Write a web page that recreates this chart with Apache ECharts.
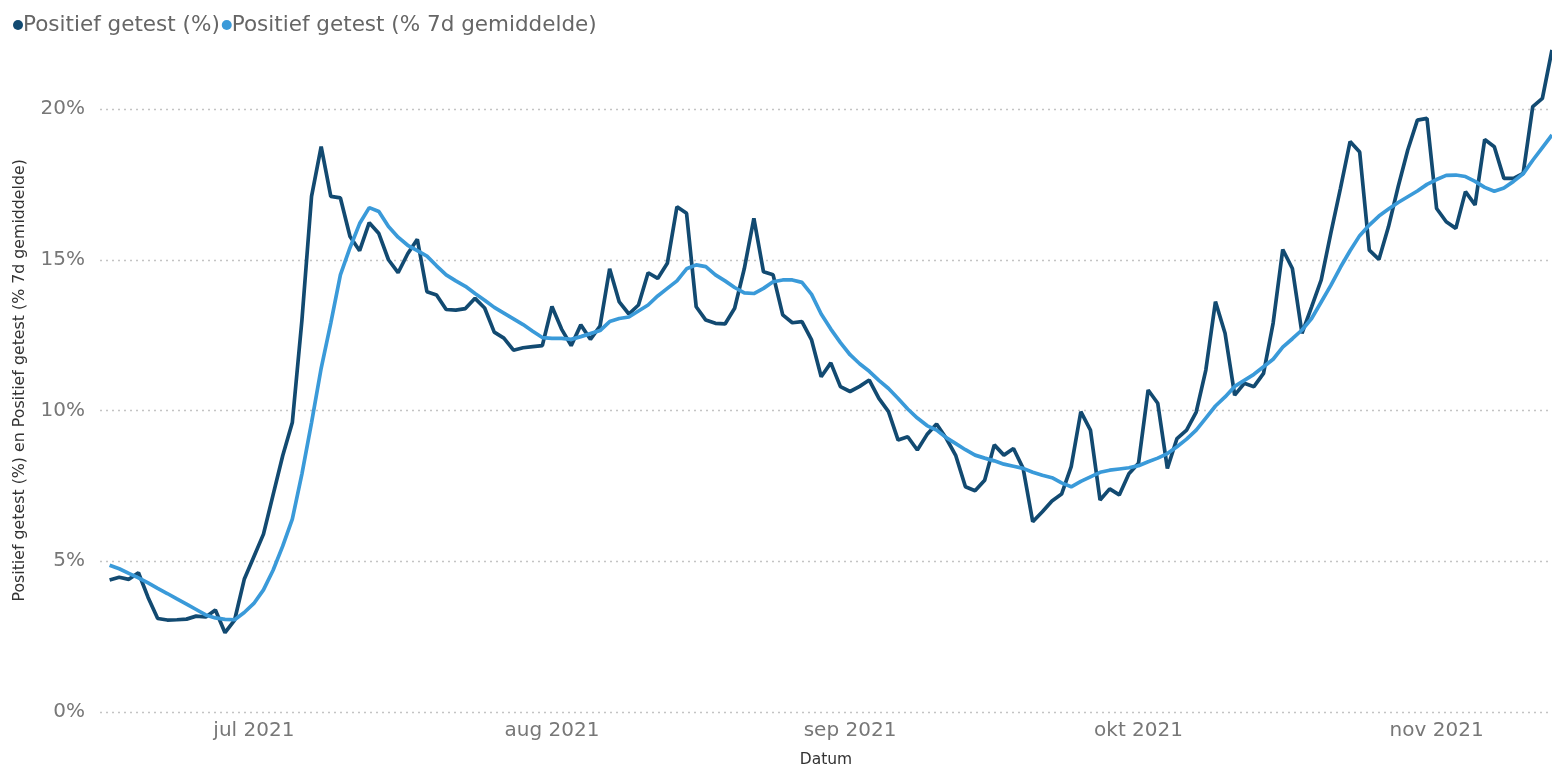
<!DOCTYPE html>
<html><head><meta charset="utf-8">
<script src="https://cdn.jsdelivr.net/npm/echarts@6/dist/echarts.min.js"></script>
<style>html,body{margin:0;padding:0;background:#fff}#c{width:1552px;height:765px}</style>
</head><body><div id="c"></div>
<script>
// first date of the daily series (year, monthIndex, day)
const startDate = [2021, 5, 16];

const positiefGetest = [
  4.38, 4.47, 4.40, 4.62, 3.80, 3.10, 3.05, 3.06, 3.08, 3.18,
  3.15, 3.38, 2.63, 3.05, 4.40, 5.15, 5.90, 7.20, 8.50, 9.60,
  13.0, 17.1, 18.75, 17.1, 17.05, 15.77, 15.3, 16.23, 15.87, 15.0,
  14.57, 15.2, 15.68, 13.94, 13.83, 13.35, 13.33, 13.38, 13.72, 13.4,
  12.6, 12.4, 12.0, 12.08, 12.12, 12.15, 13.45, 12.7, 12.15, 12.84,
  12.36, 12.8, 14.7, 13.6, 13.2, 13.5, 14.57, 14.38, 14.88, 16.76,
  16.54, 13.44, 13.0, 12.89, 12.87, 13.39, 14.7, 16.37, 14.6, 14.5,
  13.17, 12.91, 12.95, 12.34, 11.12, 11.58, 10.79, 10.63, 10.8, 11.01,
  10.4, 9.96, 9.02, 9.13, 8.69, 9.2, 9.55, 9.08, 8.5, 7.47,
  7.34, 7.69, 8.86, 8.52, 8.74, 8.08, 6.31, 6.64, 7.0, 7.23,
  8.14, 9.96, 9.35, 7.03, 7.4, 7.2, 7.9, 8.25, 10.68, 10.24,
  8.08, 9.07, 9.35, 9.95, 11.34, 13.61, 12.56, 10.51, 10.9, 10.79,
  11.23, 12.9, 15.34, 14.71, 12.56, 13.44, 14.33, 15.88, 17.37, 18.92,
  18.57, 15.32, 15.01, 16.1, 17.42, 18.64, 19.63, 19.69, 16.7, 16.26,
  16.04, 17.26, 16.82, 18.99, 18.75, 17.7, 17.7, 17.86, 20.08, 20.35,
  21.96
];

const positiefGetest7d = [
  4.87, 4.75, 4.6, 4.45, 4.28, 4.1, 3.93, 3.75, 3.58, 3.4,
  3.22, 3.12, 3.07, 3.06, 3.3, 3.6, 4.05, 4.7, 5.5, 6.4,
  7.9, 9.6, 11.4, 12.9, 14.5, 15.4, 16.2, 16.73, 16.6, 16.1,
  15.75, 15.48, 15.3, 15.12, 14.8, 14.5, 14.3, 14.12, 13.88, 13.66,
  13.42, 13.23, 13.04, 12.85, 12.63, 12.42, 12.39, 12.39, 12.36, 12.45,
  12.55, 12.65, 12.95, 13.05, 13.1, 13.3, 13.5, 13.8, 14.05, 14.3,
  14.7, 14.83, 14.77, 14.5, 14.3, 14.08, 13.9, 13.88, 14.05, 14.27,
  14.33, 14.33, 14.25, 13.85, 13.2, 12.7, 12.25, 11.85, 11.55, 11.3,
  11.0, 10.73, 10.4, 10.05, 9.75, 9.5, 9.35, 9.1, 8.9, 8.7,
  8.52, 8.42, 8.33, 8.22, 8.15, 8.08, 7.95, 7.85, 7.77, 7.6,
  7.47, 7.65, 7.8, 7.95, 8.02, 8.06, 8.1, 8.17, 8.3, 8.42,
  8.57, 8.8, 9.05, 9.35, 9.75, 10.15, 10.45, 10.8, 11.0, 11.2,
  11.45, 11.7, 12.1, 12.38, 12.67, 13.05, 13.6, 14.15, 14.75, 15.3,
  15.8, 16.15, 16.45, 16.68, 16.9, 17.09, 17.28, 17.5, 17.66, 17.8,
  17.81, 17.76, 17.6, 17.4, 17.27, 17.38, 17.6, 17.85, 18.3, 18.72,
  19.14
];

const seriesNames = ['Positief getest (%)', 'Positief getest (% 7d gemiddelde)'];
const monthLabels = ['jan', 'feb', 'mrt', 'apr', 'mei', 'jun', 'jul', 'aug', 'sep', 'okt', 'nov', 'dec'];
const yAxisTitle = 'Positief getest (%) en Positief getest (% 7d gemiddelde)';
const xAxisTitle = 'Datum';

const DAY = 86400000;
const dates = positiefGetest.map((_, i) => new Date(startDate[0], startDate[1], startDate[2] + i).getTime());
const dailyData = dates.map((d, i) => [d, positiefGetest[i]]);
const avgData = dates.map((d, i) => [d, positiefGetest7d[i]]);

const FONT = 'DejaVu Sans';
function yTicksFmt(v) { return (v % 5 === 0) ? v + '%' : ''; }

const chart = echarts.init(document.getElementById('c'), null, { renderer: 'canvas' });
chart.setOption({
  animation: false,
  backgroundColor: '#ffffff',
  textStyle: { fontFamily: FONT },
  legend: {
    left: 8, top: 9,
    icon: 'circle', itemWidth: 10, itemHeight: 10, itemGap: 2,
    textStyle: { fontFamily: FONT, fontSize: 21.5, color: '#666666', padding: [0, 0, 0, -5] },
    data: seriesNames
  },
  grid: { left: 100, right: 0, top: 48.7, bottom: 53, containLabel: false, outerBoundsMode: 'none' },
  xAxis: {
    type: 'time',
    min: dates[0] - DAY,
    max: dates[dates.length - 1],
    splitNumber: 5,
    minInterval: 28 * DAY,
    name: xAxisTitle,
    nameLocation: 'middle',
    nameGap: 40,
    nameTextStyle: { fontFamily: FONT, fontSize: 15.5, color: '#333333' },
    axisLine: { show: false },
    axisTick: { show: false },
    splitLine: { show: false },
    axisLabel: {
      fontFamily: FONT, fontSize: 20, color: '#777777', margin: 9,
      showMinLabel: false, showMaxLabel: false,
      formatter: function (v) {
        const d = new Date(v);
        if (d.getDate() !== 1) return '';
        return monthLabels[d.getMonth()] + ' ' + d.getFullYear();
      }
    }
  },
  yAxis: {
    type: 'value',
    min: 0, max: 22, interval: 5,
    name: yAxisTitle,
    nameLocation: 'middle',
    nameGap: 72,
    nameTextStyle: { fontFamily: FONT, fontSize: 15.8, color: '#333333' },
    axisLine: { show: false },
    axisTick: { show: false },
    axisLabel: {
      fontFamily: FONT, fontSize: 20, color: '#777777', margin: 15,
      showMaxLabel: false,
      formatter: yTicksFmt
    },
    splitLine: {
      show: true, showMaxLine: false,
      lineStyle: { color: '#c4c4c4', width: 1.3, type: [2, 4] }
    }
  },
  series: [
    {
      name: seriesNames[0], type: 'line', data: dailyData,
      showSymbol: false, symbol: 'none', clip: false,
      lineStyle: { color: '#124a71', width: 3.7 },
      itemStyle: { color: '#124a71' }
    },
    {
      name: seriesNames[1], type: 'line', data: avgData,
      showSymbol: false, symbol: 'none', clip: false,
      lineStyle: { color: '#3a9ad9', width: 3.7 },
      itemStyle: { color: '#3a9ad9' }
    }
  ]
});
</script>
</body></html>
